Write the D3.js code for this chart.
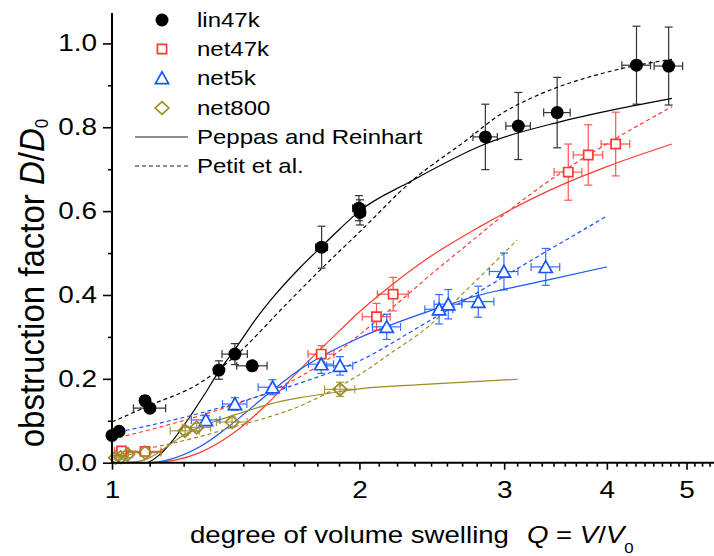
<!DOCTYPE html>
<html><head><meta charset="utf-8">
<script src="https://cdn.jsdelivr.net/npm/d3@7"></script>
<style>
body{margin:0;background:#fff}
svg{display:block}
text{font-family:"Liberation Sans",Arial,Helvetica,sans-serif;fill:#000}
</style>
</head><body>
<svg id="chart" width="714" height="556"></svg>
<script>
// ---------- data ----------
const seriesNames = ["lin47k", "net47k", "net5k", "net800"];
const modelNames = ["Peppas and Reinhart", "Petit et al."];
const xTickValues = [1, 2, 3, 4, 5];
const yTickValues = [0.0, 0.2, 0.4, 0.6, 0.8, 1.0];
const yMinorValues = [0.1, 0.3, 0.5, 0.7, 0.9];

// lin47k (filled circles)
const linQ    = [1.000, 1.020, 1.097, 1.112, 1.349, 1.411, 1.481, 1.799, 1.997, 2.003, 2.846, 3.121, 3.480, 4.346, 4.756];
const linD    = [0.065, 0.075, 0.148, 0.130, 0.221, 0.259, 0.231, 0.514, 0.607, 0.597, 0.777, 0.803, 0.835, 0.948, 0.946];
const linQerr = [0, 0, 0, 0.050, 0, 0.050, 0.063, 0.030, 0.035, 0.030, 0.097, 0.107, 0.129, 0.174, 0.190];
const linDerr = [0.005, 0.005, 0.012, 0.010, 0.022, 0.025, 0, 0.050, 0.030, 0.030, 0.078, 0.080, 0.084, 0.093, 0.093];
// net47k (open squares)
const n47Q    = [1.027, 1.097, 1.797, 2.098, 2.198, 3.590, 3.797, 4.100];
const n47D    = [0.028, 0.027, 0.259, 0.348, 0.402, 0.693, 0.734, 0.760];
const n47Qerr = [0.020, 0.050, 0.065, 0.082, 0.095, 0.140, 0.157, 0.164];
const n47Derr = [0.010, 0.008, 0.020, 0.032, 0.040, 0.067, 0.072, 0.076];
// net5k (open triangles)
const n5Q     = [1.301, 1.411, 1.568, 1.797, 1.894, 2.159, 2.500, 2.565, 2.790, 2.998, 3.370];
const n5D     = [0.102, 0.140, 0.180, 0.235, 0.231, 0.324, 0.366, 0.378, 0.384, 0.456, 0.467];
const n5Qerr  = [0.052, 0.048, 0.062, 0.063, 0.069, 0.085, 0.098, 0.100, 0.125, 0.120, 0.135];
const n5Derr  = [0.010, 0.015, 0.018, 0.022, 0.022, 0.030, 0.035, 0.035, 0.037, 0.044, 0.044];
// net800 (open diamonds)
const n800Q    = [1.010, 1.025, 1.045, 1.097, 1.227, 1.268, 1.400, 1.894];
const n800D    = [0.012, 0.013, 0.020, 0.024, 0.076, 0.084, 0.097, 0.175];
const n800Qerr = [0.010, 0.015, 0.015, 0.050, 0.050, 0.050, 0.060, 0.080];
const n800Derr = [0.005, 0.005, 0.008, 0.008, 0.010, 0.010, 0.012, 0.017];

// model curves (solid = Peppas and Reinhart, dashed = Petit et al.)
const linPRQ = [1.00, 1.05, 1.10, 1.144, 1.193, 1.244, 1.298, 1.349, 1.411, 1.493, 1.579, 1.693, 1.791, 1.894, 2.00, 2.304, 2.859, 3.508, 4.352, 4.80];
const linPRD = [0.000, 0.000, 0.000, 0.020, 0.060, 0.110, 0.165, 0.218, 0.270, 0.340, 0.400, 0.465, 0.512, 0.558, 0.600, 0.670, 0.762, 0.813, 0.853, 0.869];
const linPEQ = [1.00, 1.106, 1.279, 1.404, 1.633, 1.801, 2.00, 2.323, 2.703, 2.963, 3.223, 3.478, 3.924, 4.303, 4.80];
const linPED = [0.097, 0.135, 0.190, 0.250, 0.380, 0.464, 0.550, 0.674, 0.770, 0.830, 0.868, 0.895, 0.927, 0.946, 0.962];

const n47PRQ = [1.00, 1.112, 1.193, 1.279, 1.404, 1.544, 1.693, 1.858, 2.00, 2.161, 2.437, 2.803, 3.411, 4.00, 4.80];
const n47PRD = [0.000, 0.000, 0.006, 0.024, 0.070, 0.140, 0.222, 0.300, 0.360, 0.415, 0.491, 0.563, 0.650, 0.706, 0.760];
const n47PEQ = [1.00, 1.144, 1.279, 1.404, 1.557, 1.693, 1.842, 2.00, 2.24, 2.437, 2.749, 2.99, 3.508, 4.092, 4.80];
const n47PED = [0.056, 0.085, 0.112, 0.138, 0.170, 0.205, 0.250, 0.305, 0.385, 0.447, 0.531, 0.590, 0.690, 0.772, 0.849];

const n5PRQ = [1.00, 1.112, 1.176, 1.279, 1.404, 1.544, 1.693, 1.858, 2.00, 2.161, 2.437, 2.803, 3.023, 3.373, 4.00];
const n5PRD = [0.000, 0.000, 0.008, 0.038, 0.095, 0.162, 0.222, 0.268, 0.298, 0.325, 0.362, 0.400, 0.415, 0.435, 0.467];
const n5PEQ = [1.00, 1.176, 1.404, 1.693, 2.00, 2.416, 2.78, 3.317, 4.00];
const n5PED = [0.070, 0.100, 0.140, 0.190, 0.243, 0.335, 0.405, 0.495, 0.588];

const n800PRQ = [1.00, 1.067, 1.112, 1.16, 1.21, 1.262, 1.342, 1.431, 1.544, 1.693, 1.842, 2.00, 2.37, 3.118];
const n800PRD = [0.000, 0.002, 0.012, 0.035, 0.060, 0.080, 0.100, 0.118, 0.138, 0.155, 0.166, 0.176, 0.186, 0.199];
const n800PEQ = [1.00, 1.144, 1.279, 1.404, 1.557, 1.693, 1.842, 2.00, 2.179, 2.416, 2.726, 3.11];
const n800PED = [0.016, 0.040, 0.062, 0.085, 0.110, 0.135, 0.170, 0.210, 0.260, 0.322, 0.420, 0.531];

// ---------- setup ----------
const svg = d3.select("#chart");
const x = d3.scaleLog().domain([1, 5.4]).range([112, 714]);
const y = d3.scaleLinear().domain([0, 1.0725]).range([462.7, 13]);
const SX = 1.2; // horizontal glyph stretch of the original

const colors = {lin47k: "#000000", net47k: "#ff3a30", net5k: "#1554ff", net800: "#9a8c25"};

const zip = (a, b) => a.map((v, i) => [v, b[i]]);
const series = [
  {name: "lin47k", sym: "circle", pts: linQ.map((q, i) => ({q, d: linD[i], eq: linQerr[i], ed: linDerr[i]})),
   pr: zip(linPRQ, linPRD), pe: zip(linPEQ, linPED)},
  {name: "net47k", sym: "square", pts: n47Q.map((q, i) => ({q, d: n47D[i], eq: n47Qerr[i], ed: n47Derr[i]})),
   pr: zip(n47PRQ, n47PRD), pe: zip(n47PEQ, n47PED)},
  {name: "net5k", sym: "triangle", pts: n5Q.map((q, i) => ({q, d: n5D[i], eq: n5Qerr[i], ed: n5Derr[i]})),
   pr: zip(n5PRQ, n5PRD), pe: zip(n5PEQ, n5PED)},
  {name: "net800", sym: "diamond", pts: n800Q.map((q, i) => ({q, d: n800D[i], eq: n800Qerr[i], ed: n800Derr[i]})),
   pr: zip(n800PRQ, n800PRD), pe: zip(n800PEQ, n800PED)}
];

// marker shapes (relative to marker centre)
function markerPath(sym) {
  if (sym === "circle") return d3.symbol(d3.symbolCircle, Math.PI * 6.5 * 6.5)();
  if (sym === "square") { const h = 4.6; return `M${-h},${-h}H${h}V${h}H${-h}Z`; }
  if (sym === "triangle") { const w = 6.6, h = 5.6; return `M0,${-h - 0.6}L${w},${h}L${-w},${h}Z`; }
  const w = 6.8, h = 6.4; return `M0,${-h}L${w},0L0,${h}L${-w},0Z`;
}
function styleMarker(sel, s) {
  const c = colors[s.name];
  if (s.sym === "circle") sel.attr("fill", c).attr("stroke", "none");
  else sel.attr("fill", s.sym === "diamond" ? "none" : "#fff").attr("stroke", c).attr("stroke-width", 1.7);
}

// ---------- curves ----------
const line = d3.line().x(d => x(d[0])).y(d => y(d[1])).curve(d3.curveMonotoneX);
const gCurves = svg.append("g");
series.forEach(s => {
  gCurves.append("path").attr("d", line(s.pr)).attr("fill", "none")
    .attr("stroke", colors[s.name]).attr("stroke-width", 1.2);
  gCurves.append("path").attr("d", line(s.pe)).attr("fill", "none")
    .attr("stroke", colors[s.name]).attr("stroke-width", 1.2).attr("stroke-dasharray", "4,3");
});

// ---------- error bars & markers ----------
const cap = 4;
series.forEach(s => {
  const c = colors[s.name];
  const g = svg.append("g").attr("stroke", c).attr("stroke-width", 1.2).attr("opacity", s.name === "lin47k" ? 0.8 : 0.85);
  s.pts.forEach(p => {
    const px = x(p.q), py = y(p.d);
    if (p.ed > 0) {
      const y1 = y(p.d - p.ed), y2 = y(p.d + p.ed);
      g.append("line").attr("x1", px).attr("x2", px).attr("y1", y1).attr("y2", y2);
      g.append("line").attr("x1", px - cap).attr("x2", px + cap).attr("y1", y1).attr("y2", y1);
      g.append("line").attr("x1", px - cap).attr("x2", px + cap).attr("y1", y2).attr("y2", y2);
    }
    if (p.eq > 0) {
      const x1 = x(p.q - p.eq), x2 = x(p.q + p.eq);
      g.append("line").attr("x1", x1).attr("x2", x2).attr("y1", py).attr("y2", py);
      g.append("line").attr("x1", x1).attr("x2", x1).attr("y1", py - cap).attr("y2", py + cap);
      g.append("line").attr("x1", x2).attr("x2", x2).attr("y1", py - cap).attr("y2", py + cap);
    }
  });
});
series.forEach(s => {
  svg.append("g").selectAll("path").data(s.pts).join("path")
    .attr("d", markerPath(s.sym))
    .attr("transform", p => `translate(${x(p.q)},${y(p.d)})`)
    .call(sel => styleMarker(sel, s));
});

// ---------- axes ----------
const gy = svg.append("g").attr("transform", `translate(${x.range()[0]},0)`)
  .call(d3.axisLeft(y).tickValues(yTickValues).tickSize(9).tickPadding(6).tickFormat(d3.format(".1f")));
gy.append("g").call(d3.axisLeft(y).tickValues(yMinorValues).tickSize(4).tickFormat(""));
const xMinor = [];
xTickValues.forEach(n => { for (let i = 1; i <= 8; i++) { const v = n + i / 9; if (v < x.domain()[1]) xMinor.push(v); } });
const gx = svg.append("g").attr("transform", `translate(0,${y.range()[0]})`)
  .call(d3.axisBottom(x).tickValues(xTickValues).tickSize(7).tickPadding(12).tickFormat(d3.format("d")));
gx.append("g").call(d3.axisBottom(x).tickValues(xMinor).tickSize(4).tickFormat(""));
[gx, gy].forEach(g => {
  g.selectAll(".domain").remove();
  g.selectAll("line").attr("stroke", "#000").attr("stroke-width", 1.6);
});
gy.selectAll(".tick text").each(function () {
  const t = d3.select(this), xx = +t.attr("x");
  t.attr("x", 0).attr("transform", `translate(${xx},0) scale(${SX},1)`)
   .attr("font-size", 23.3).attr("font-family", null).attr("fill", "#000");
});
gx.selectAll(".tick text").each(function () {
  const t = d3.select(this), yy = +t.attr("y");
  t.attr("y", 0).attr("transform", `translate(0,${yy}) scale(${SX},1)`)
   .attr("font-size", 23.3).attr("font-family", null).attr("fill", "#000");
});
svg.append("line").attr("x1", x.range()[0]).attr("x2", x.range()[0])
  .attr("y1", y.range()[1]).attr("y2", y.range()[0] + 1).attr("stroke", "#000").attr("stroke-width", 2);
svg.append("line").attr("x1", x.range()[0] - 1).attr("x2", x.range()[1])
  .attr("y1", y.range()[0]).attr("y2", y.range()[0]).attr("stroke", "#000").attr("stroke-width", 2);

// ---------- axis titles ----------
const xt = svg.append("text").attr("transform", `translate(190,543) scale(${SX},1)`).attr("font-size", 23);
xt.append("tspan").text("degree of volume swelling");
xt.append("tspan").attr("dx", 15).attr("font-style", "italic").text("Q");
xt.append("tspan").text(" = ");
xt.append("tspan").attr("font-style", "italic").text("V");
xt.append("tspan").text("/");
xt.append("tspan").attr("font-style", "italic").text("V");
xt.append("tspan").attr("font-size", 14).attr("dy", 10).text("0");

const yt = svg.append("text").attr("transform", `translate(44,283) rotate(-90) scale(1,1.05)`)
  .attr("font-size", 33).attr("text-anchor", "middle");
yt.append("tspan").text("obstruction factor ");
yt.append("tspan").attr("font-style", "italic").text("D");
yt.append("tspan").text("/");
yt.append("tspan").attr("font-style", "italic").text("D");
yt.append("tspan").attr("font-size", 17).attr("dy", 4).text("0");

// ---------- legend ----------
const legRows = [20, 49, 78, 108];
const leg = svg.append("g");
series.forEach((s, i) => {
  leg.append("path").attr("d", markerPath(s.sym)).attr("transform", `translate(162,${legRows[i]})`)
    .call(sel => styleMarker(sel, s));
  leg.append("text").attr("transform", `translate(197,${legRows[i] + 7}) scale(${SX},1)`)
    .attr("font-size", 20).text(seriesNames[i]);
});
const lineRows = [137, 166];
modelNames.forEach((m, i) => {
  leg.append("line").attr("x1", 135).attr("x2", 188).attr("y1", lineRows[i]).attr("y2", lineRows[i])
    .attr("stroke", "#222").attr("stroke-width", 1.2).attr("stroke-dasharray", i ? "4,3" : null);
  leg.append("text").attr("transform", `translate(197,${lineRows[i] + 7}) scale(${SX},1)`)
    .attr("font-size", 20).text(m);
});
</script>
</body></html>
